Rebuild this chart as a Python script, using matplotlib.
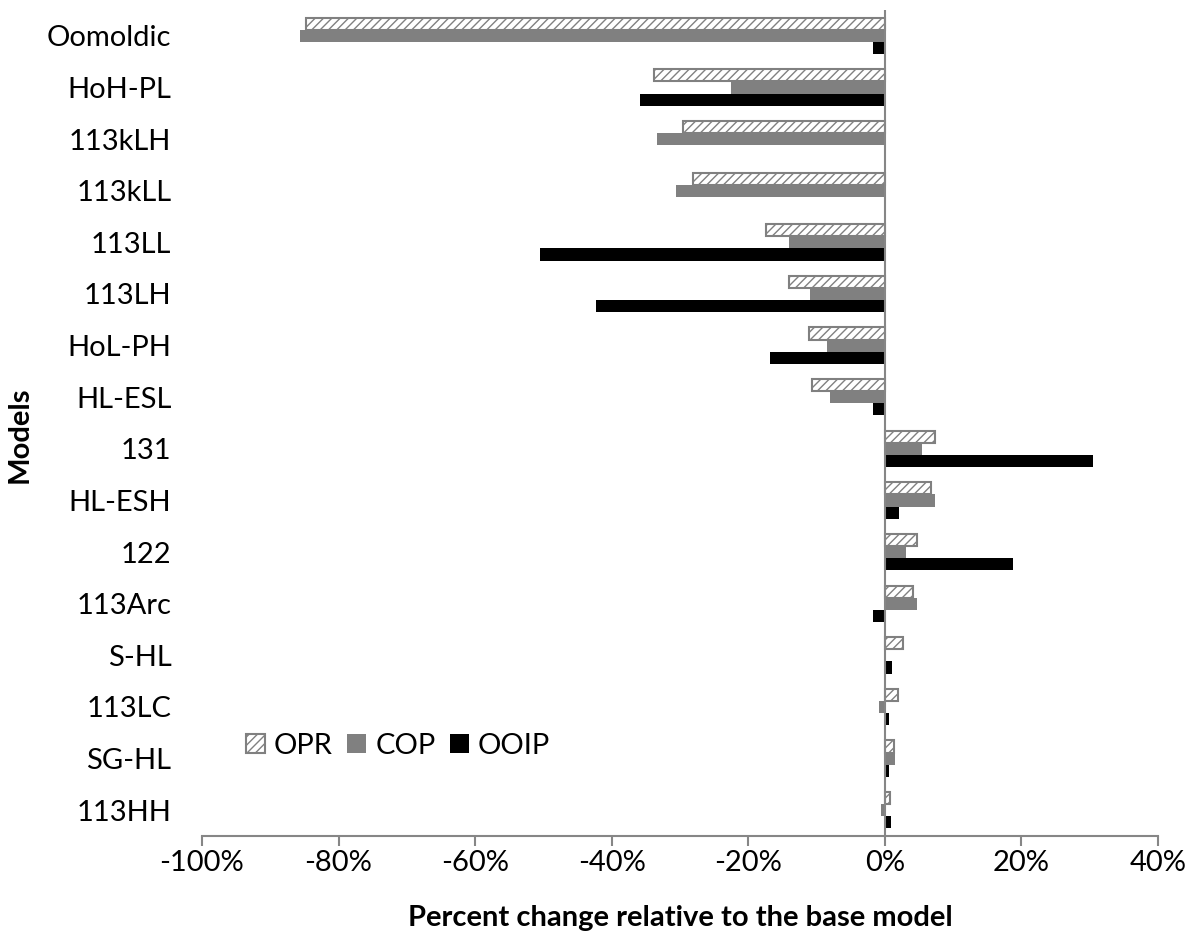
import numpy as np
import matplotlib
matplotlib.use("Agg")
import matplotlib.pyplot as plt
from matplotlib.patches import Patch

plt.rcParams['font.family'] = ['Lato', 'DejaVu Sans']
plt.rcParams['axes.unicode_minus'] = False
plt.rcParams['hatch.linewidth'] = 1.0

models = ["Oomoldic", "HoH-PL", "113kLH", "113kLL", "113LL", "113LH", "HoL-PH", "HL-ESL",
          "131", "HL-ESH", "122", "113Arc", "S-HL", "113LC", "SG-HL", "113HH"]

# percent change vs. base model
opr = [-84.7, -33.8, -29.5, -28.1, -17.4, -14.1, -11.1, -10.7,
       7.4, 6.7, 4.7, 4.1, 2.6, 1.9, 1.3, 0.7]
cop = [-85.7, -22.5, -33.4, -30.6, -14.0, -11.0, -8.4, -8.0,
       5.5, 7.4, 3.1, 4.7, 0.1, -0.9, 1.5, -0.6]
ooip = [-1.7, -35.9, 0.1, 0.1, -50.5, -42.3, -16.8, -1.8,
        30.5, 2.1, 18.8, -1.7, 1.0, 0.6, 0.6, 0.9]

xticks = [-100, -80, -60, -40, -20, 0, 20, 40]

gray = "#808080"
axis_gray = "#868686"

fig = plt.figure(figsize=(11.9, 9.38), dpi=100)
ax = fig.add_axes([0.1697, 0.1087, 0.8034, 0.8806])

y = np.arange(len(models))
h = 0.235

ax.barh(y - h, opr, height=h, color="white", edgecolor=gray, hatch="////", linewidth=1.5, label="OPR")
ax.barh(y, cop, height=h, color=gray, linewidth=0, label="COP")
ax.barh(y + h, ooip, height=h, color="black", linewidth=0, label="OOIP")

ax.axvline(0, color=axis_gray, linewidth=1.5, zorder=3)

ax.set_xlim(-100, 40)
ax.set_ylim(15.5, -0.5)
ax.set_xticks(xticks)
ax.set_xticklabels([f"{t}%" for t in xticks])
ax.set_yticks(y)
ax.set_yticklabels(models)

for side in ["top", "left", "right"]:
    ax.spines[side].set_visible(False)
ax.spines["bottom"].set_color(axis_gray)
ax.spines["bottom"].set_linewidth(1.5)

ax.tick_params(axis="x", direction="out", length=7, width=1.5, color=axis_gray,
               labelsize=21, pad=3)
ax.tick_params(axis="y", length=0, labelsize=21, pad=22)

# axis titles placed in figure coordinates
fig.text(0.5714, 1 - 918 / 938, "Percent change relative to the base model",
         fontsize=21, fontweight="bold", ha="center", va="center")
fig.text(20 / 1190, 1 - 435 / 938, "Models", fontsize=21, fontweight="bold",
         rotation=90, ha="center", va="center")

handles = [Patch(facecolor="white", edgecolor=gray, hatch="////", linewidth=1.5),
           Patch(facecolor=gray), Patch(facecolor="black")]
ax.legend(handles, ["OPR", "COP", "OOIP"], ncol=3, frameon=False, fontsize=21,
          loc="center left", bbox_to_anchor=(0.025, 0.1095),
          handlelength=0.65, handleheight=0.65, handletextpad=0.3, columnspacing=0.5,
          borderpad=0.2)

fig.savefig("out.png", dpi=100)
